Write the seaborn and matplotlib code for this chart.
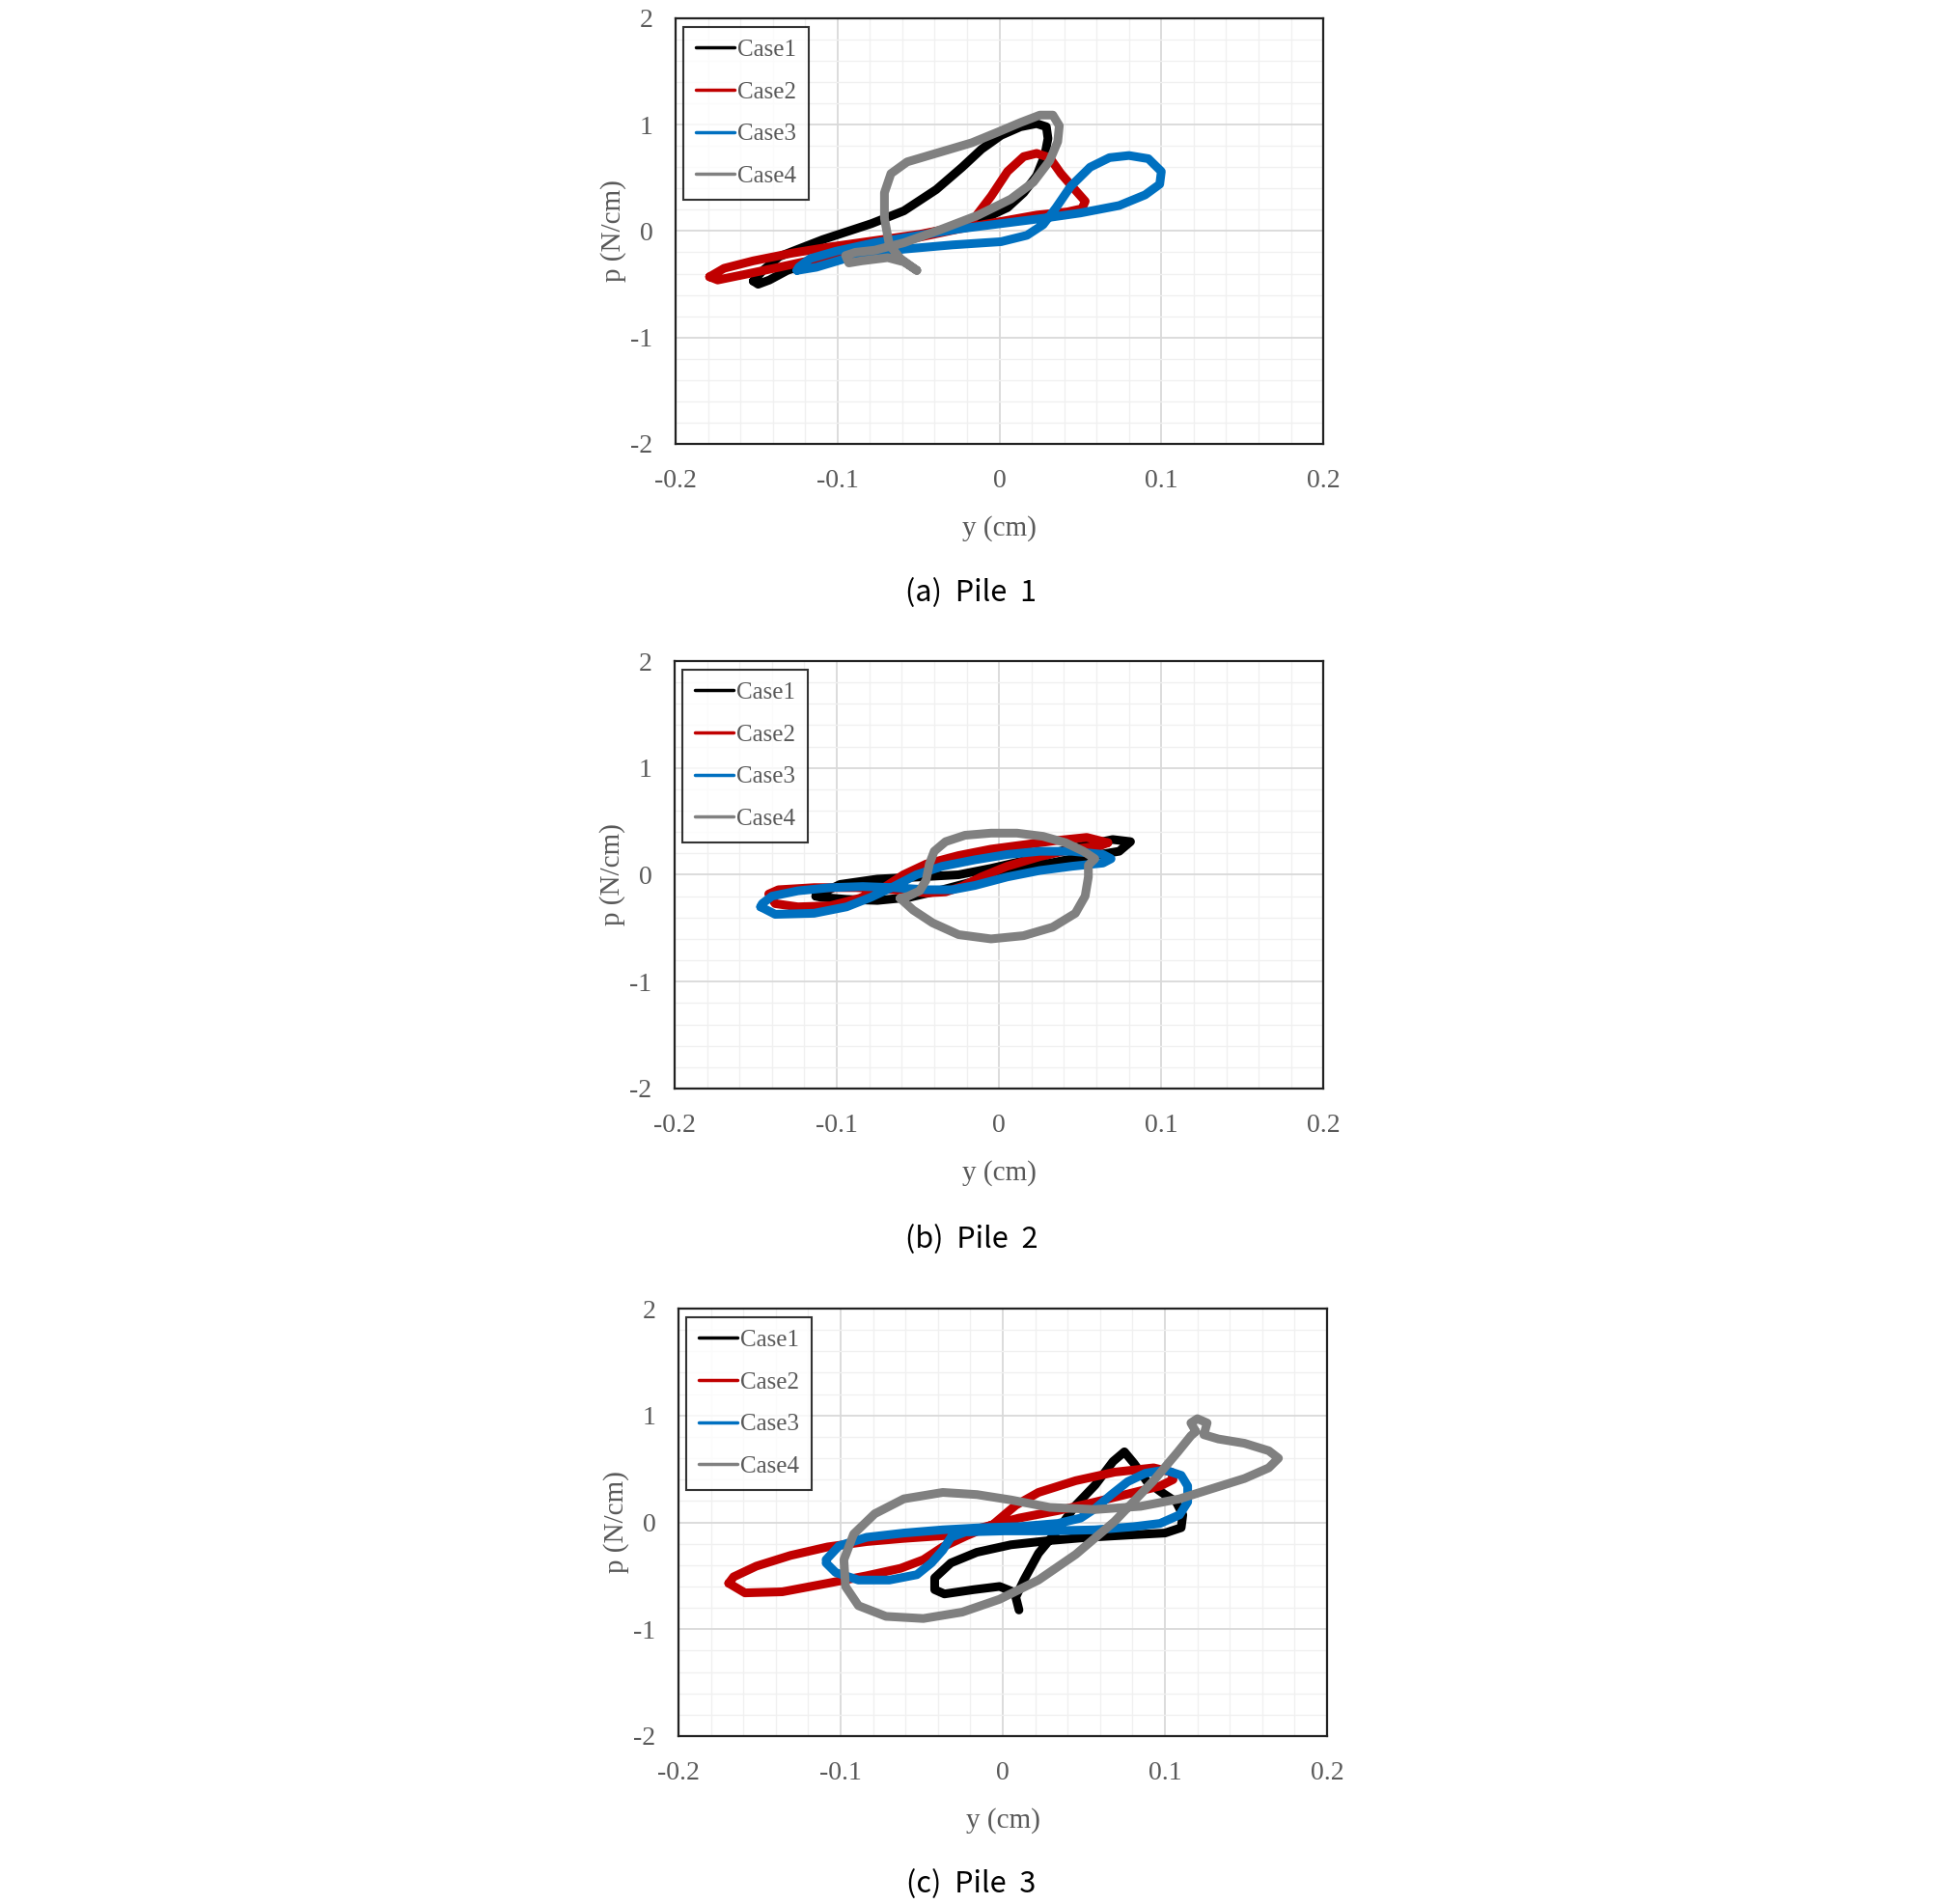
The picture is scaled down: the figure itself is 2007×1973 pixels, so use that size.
import numpy as np
import pandas as pd
import matplotlib
matplotlib.use("Agg")
import matplotlib.pyplot as plt
import seaborn as sns
from matplotlib.ticker import MultipleLocator

CASES = ["Case1", "Case2", "Case3", "Case4"]
COLORS = ["#000000", "#C00000", "#0070C0", "#808080"]
CAPTIONS = ["(a)  Pile  1", "(b)  Pile  2", "(c)  Pile  3"]
X_TICKS = [-0.2, -0.1, 0, 0.1, 0.2]
X_LABELS = ["-0.2", "-0.1", "0", "0.1", "0.2"]
Y_TICKS = [-2, -1, 0, 1, 2]
Y_LABELS = ["-2", "-1", "0", "1", "2"]

# ---- Pile 1 : y (cm), p (N/cm) traced off the loops
P1_C1_Y = [-0.152, -0.146, -0.136, -0.109, -0.079, -0.059, -0.039, -0.023, -0.011, 0.001, 0.013, 0.023, 0.029,
           0.030, 0.028, 0.023, 0.015, 0.005, -0.009, -0.029, -0.053, -0.081, -0.109, -0.131, -0.142, -0.149, -0.152]
P1_C1_P = [-0.47, -0.37, -0.24, -0.08, 0.07, 0.19, 0.39, 0.60, 0.77, 0.90, 0.98, 1.01, 0.98,
           0.87, 0.71, 0.52, 0.36, 0.22, 0.12, 0.03, -0.05, -0.16, -0.26, -0.37, -0.46, -0.50, -0.47]
P1_C2_Y = [-0.179, -0.170, -0.152, -0.129, -0.105, -0.077, -0.049, -0.029, -0.015, -0.005, 0.005, 0.015, 0.023,
           0.031, 0.038, 0.046, 0.053, 0.051, 0.042, 0.023, 0.001, -0.025, -0.053, -0.081, -0.109, -0.136, -0.158,
           -0.174, -0.179]
P1_C2_P = [-0.43, -0.35, -0.28, -0.21, -0.15, -0.09, -0.03, 0.03, 0.13, 0.33, 0.56, 0.70, 0.73,
           0.69, 0.54, 0.40, 0.28, 0.21, 0.18, 0.15, 0.09, 0.02, -0.07, -0.16, -0.25, -0.34, -0.41,
           -0.46, -0.43]
P1_C3_Y = [-0.125, -0.113, -0.089, -0.059, -0.029, 0.001, 0.017, 0.027, 0.035, 0.044, 0.056, 0.068, 0.080,
           0.092, 0.100, 0.099, 0.090, 0.074, 0.050, 0.027, 0.001, -0.025, -0.049, -0.077, -0.101, -0.117, -0.124,
           -0.125]
P1_C3_P = [-0.37, -0.34, -0.23, -0.17, -0.13, -0.10, -0.04, 0.06, 0.22, 0.42, 0.60, 0.69, 0.71,
           0.68, 0.56, 0.44, 0.34, 0.24, 0.17, 0.12, 0.07, 0.02, -0.04, -0.11, -0.19, -0.26, -0.34,
           -0.37]
P1_C4_Y = [-0.051, -0.061, -0.068, -0.071, -0.071, -0.067, -0.057, -0.037, -0.017, -0.001, 0.013, 0.025, 0.033,
           0.037, 0.036, 0.031, 0.021, 0.007, -0.013, -0.037, -0.059, -0.077, -0.089, -0.095, -0.093, -0.085,
           -0.069, -0.059, -0.051]
P1_C4_P = [-0.37, -0.26, -0.13, 0.12, 0.36, 0.54, 0.65, 0.74, 0.83, 0.93, 1.02, 1.09, 1.09,
           0.99, 0.84, 0.66, 0.46, 0.30, 0.15, 0.01, -0.11, -0.18, -0.20, -0.23, -0.30, -0.28,
           -0.25, -0.29, -0.37]

# ---- Pile 2
P2_C1_Y = [-0.113, -0.098, -0.075, -0.049, -0.025, -0.005, 0.015, 0.035, 0.054, 0.070, 0.081, 0.074, 0.062,
           0.045, 0.025, 0.005, -0.015, -0.035, -0.055, -0.075, -0.094, -0.110, -0.113]
P2_C1_P = [-0.20, -0.09, -0.04, -0.02, 0.00, 0.06, 0.13, 0.21, 0.28, 0.33, 0.31, 0.22, 0.19,
           0.15, 0.09, 0.01, -0.06, -0.14, -0.21, -0.24, -0.23, -0.21, -0.20]
P2_C2_Y = [0.067, 0.054, 0.035, 0.015, -0.005, -0.025, -0.045, -0.059, -0.071, -0.086, -0.104, -0.124, -0.138,
           -0.142, -0.136, -0.114, -0.088, -0.065, -0.045, -0.033, -0.023, -0.011, 0.005, 0.025, 0.045, 0.062, 0.067]
P2_C2_P = [0.30, 0.35, 0.32, 0.28, 0.24, 0.18, 0.10, 0.00, -0.12, -0.22, -0.29, -0.30, -0.27,
           -0.18, -0.14, -0.12, -0.12, -0.14, -0.17, -0.16, -0.11, -0.02, 0.08, 0.17, 0.24, 0.27, 0.30]
P2_C3_Y = [-0.147, -0.138, -0.114, -0.094, -0.079, -0.065, -0.051, -0.035, -0.015, 0.005, 0.025, 0.045, 0.064,
           0.069, 0.064, 0.045, 0.025, 0.005, -0.015, -0.029, -0.045, -0.065, -0.084, -0.104, -0.124, -0.140, -0.146,
           -0.147]
P2_C3_P = [-0.30, -0.37, -0.36, -0.30, -0.21, -0.11, 0.00, 0.08, 0.14, 0.19, 0.22, 0.22, 0.19,
           0.15, 0.11, 0.08, 0.04, -0.02, -0.10, -0.14, -0.14, -0.12, -0.11, -0.12, -0.15, -0.20, -0.27,
           -0.30]
P2_C4_Y = [-0.061, -0.053, -0.041, -0.025, -0.005, 0.015, 0.033, 0.047, 0.053, 0.055, 0.055, 0.059, 0.052,
           0.041, 0.027, 0.011, -0.005, -0.021, -0.033, -0.040, -0.043, -0.045, -0.049, -0.056, -0.061]
P2_C4_P = [-0.22, -0.33, -0.45, -0.56, -0.60, -0.57, -0.49, -0.36, -0.20, -0.02, 0.09, 0.15, 0.22,
           0.30, 0.36, 0.39, 0.39, 0.37, 0.31, 0.22, 0.10, -0.05, -0.15, -0.20, -0.22]

# ---- Pile 3
P3_C1_Y = [0.010, 0.008, 0.013, 0.022, 0.034, 0.045, 0.057, 0.068, 0.075, 0.081, 0.089, 0.098, 0.107, 0.111,
           0.110, 0.100, 0.076, 0.053, 0.029, 0.005, -0.016, -0.032, -0.042, -0.042, -0.036, -0.018, -0.002, 0.008]
P3_C1_P = [-0.82, -0.70, -0.54, -0.29, -0.07, 0.16, 0.35, 0.57, 0.66, 0.55, 0.38, 0.28, 0.19, 0.07,
           -0.05, -0.10, -0.12, -0.14, -0.17, -0.21, -0.28, -0.38, -0.52, -0.63, -0.67, -0.63, -0.60, -0.66]
P3_C2_Y = [-0.169, -0.159, -0.136, -0.108, -0.084, -0.063, -0.049, -0.037, -0.023, -0.006, 0.008, 0.022, 0.045,
           0.069, 0.093, 0.104, 0.105, 0.097, 0.081, 0.057, 0.034, 0.010, -0.013, -0.032, -0.061, -0.084, -0.108,
           -0.131, -0.152, -0.166, -0.169]
P3_C2_P = [-0.57, -0.66, -0.65, -0.57, -0.50, -0.43, -0.35, -0.23, -0.13, -0.02, 0.16, 0.28, 0.39,
           0.47, 0.51, 0.47, 0.40, 0.34, 0.28, 0.19, 0.11, 0.04, -0.05, -0.12, -0.15, -0.18, -0.23,
           -0.31, -0.41, -0.51, -0.57]
P3_C3_Y = [-0.109, -0.101, -0.084, -0.061, -0.037, -0.013, 0.010, 0.034, 0.048, 0.057, 0.067, 0.077, 0.088,
           0.100, 0.110, 0.114, 0.114, 0.109, 0.097, 0.081, 0.057, 0.029, 0.001, -0.023, -0.032, -0.037, -0.044,
           -0.053, -0.070, -0.089, -0.103, -0.109]
P3_C3_P = [-0.35, -0.22, -0.14, -0.10, -0.07, -0.05, -0.04, -0.01, 0.04, 0.13, 0.26, 0.38, 0.46,
           0.49, 0.44, 0.34, 0.19, 0.07, -0.01, -0.04, -0.07, -0.08, -0.08, -0.09, -0.14, -0.26, -0.38,
           -0.49, -0.54, -0.54, -0.47, -0.38]
P3_C4_Y = [0.119, 0.116, 0.120, 0.126, 0.124, 0.133, 0.149, 0.164, 0.170, 0.164, 0.149, 0.130, 0.109, 0.085,
           0.057, 0.029, 0.005, -0.016, -0.037, -0.061, -0.079, -0.092, -0.098, -0.097, -0.089, -0.072, -0.049,
           -0.025, -0.002, 0.022, 0.045, 0.069, 0.093, 0.108, 0.116, 0.119]
P3_C4_P = [0.85, 0.93, 0.97, 0.93, 0.82, 0.78, 0.74, 0.67, 0.60, 0.51, 0.41, 0.32, 0.22, 0.15,
           0.12, 0.14, 0.21, 0.26, 0.28, 0.22, 0.08, -0.11, -0.35, -0.60, -0.78, -0.88, -0.90,
           -0.84, -0.72, -0.54, -0.30, 0.01, 0.39, 0.66, 0.81, 0.85]

PILES = [
    [(P1_C1_Y, P1_C1_P), (P1_C2_Y, P1_C2_P), (P1_C3_Y, P1_C3_P), (P1_C4_Y, P1_C4_P)],
    [(P2_C1_Y, P2_C1_P), (P2_C2_Y, P2_C2_P), (P2_C3_Y, P2_C3_P), (P2_C4_Y, P2_C4_P)],
    [(P3_C1_Y, P3_C1_P), (P3_C2_Y, P3_C2_P), (P3_C3_Y, P3_C3_P), (P3_C4_Y, P3_C4_P)],
]

# axes rectangles in figure fractions (left, bottom, width, height)
AX_RECTS = [(0.3486, 0.7669, 0.3342, 0.2235),
            (0.3481, 0.4283, 0.3349, 0.2245),
            (0.3501, 0.0882, 0.3347, 0.2245)]
CAP_Y = [0.6884, 0.3488, 0.0104]

TXT = "#595959"
SERIF = ["Liberation Serif", "DejaVu Serif"]

sns.set_style("white")
plt.rcParams["font.family"] = SERIF

fig = plt.figure(figsize=(20.08, 19.73), dpi=100)
palette = dict(zip(CASES, COLORS))

for i, pile in enumerate(PILES):
    frames = []
    for case, (ys, ps) in zip(CASES, pile):
        frames.append(pd.DataFrame({"y": ys, "p": ps, "case": case}))
    df = pd.concat(frames, ignore_index=True)

    ax = fig.add_axes(AX_RECTS[i])
    sns.lineplot(data=df, x="y", y="p", hue="case", palette=palette, sort=False,
                 estimator=None, linewidth=6.5, ax=ax,
                 solid_joinstyle="round", solid_capstyle="round")

    ax.set_xlim(-0.2, 0.2)
    ax.set_ylim(-2, 2)
    ax.set_xticks(X_TICKS, labels=X_LABELS)
    ax.set_yticks(Y_TICKS, labels=Y_LABELS)
    ax.xaxis.set_minor_locator(MultipleLocator(0.02))
    ax.yaxis.set_minor_locator(MultipleLocator(0.2))
    ax.grid(which="major", color="#d9d9d9", linewidth=1.3)
    ax.grid(which="minor", color="#f0f0f0", linewidth=1.0)
    ax.set_axisbelow(True)
    ax.tick_params(which="both", length=0, labelsize=20, labelcolor=TXT)
    ax.tick_params(axis="x", pad=18.5)
    ax.tick_params(axis="y", pad=17)
    for s in ax.spines.values():
        s.set_visible(True)
        s.set_color("#222222")
        s.set_linewidth(1.6)

    ax.set_xlabel("y (cm)", fontsize=21, color=TXT)
    ax.set_ylabel("p (N/cm)", fontsize=21, color=TXT)
    ax.xaxis.set_label_coords(0.5, -0.168)
    ax.yaxis.set_label_coords(-0.076, 0.5)

    handles, labels = ax.get_legend_handles_labels()
    leg = ax.legend(handles, labels, loc="upper left", bbox_to_anchor=(0.012, 0.98),
                    borderaxespad=0, frameon=True, fancybox=False, fontsize=18,
                    handlelength=1.6, handletextpad=0.15, labelspacing=0.85,
                    borderpad=0.5, labelcolor=TXT)
    leg.get_frame().set_edgecolor("#000000")
    leg.get_frame().set_linewidth(1.5)
    for h in leg.get_lines():
        h.set_linewidth(2.5)

    fig.text(0.5012, CAP_Y[i], CAPTIONS[i], ha="center", va="center", fontsize=22,
             family=["Noto Sans CJK KR", "DejaVu Sans"], color="#000000")

fig.savefig("out.png", dpi=100)
